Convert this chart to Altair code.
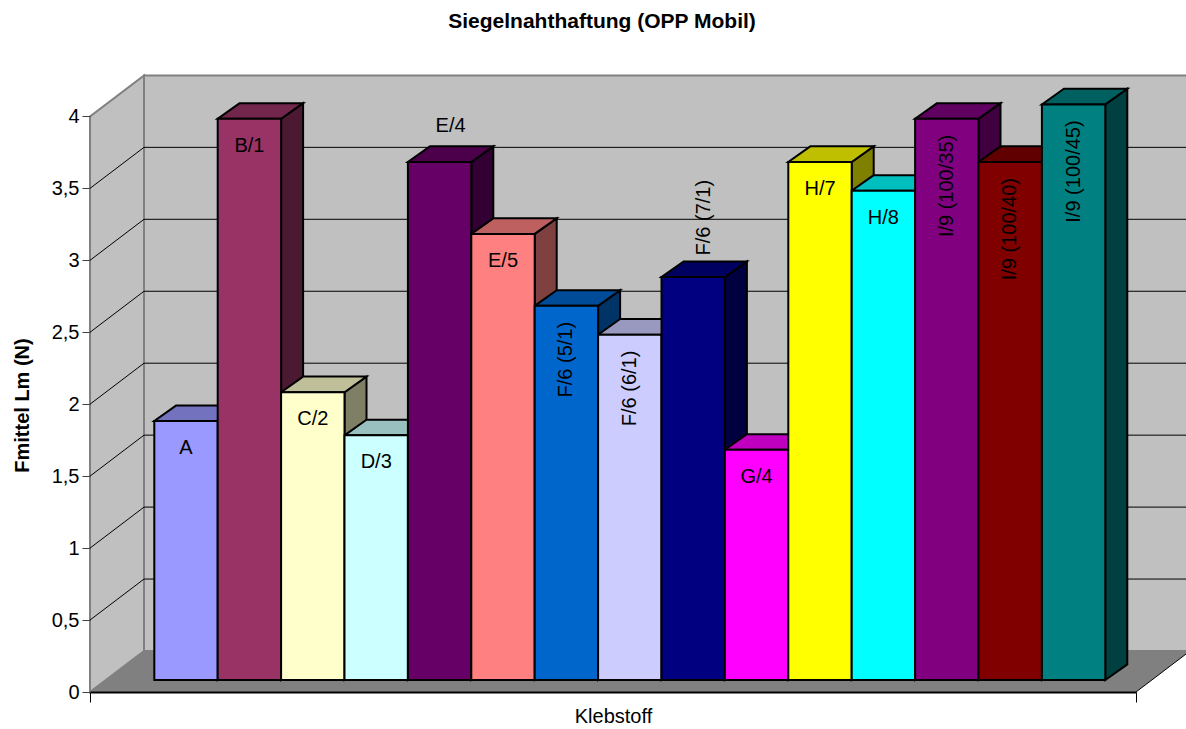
import altair as alt
import pandas as pd

# ---- data -------------------------------------------------------------
categories = ["A", "B/1", "C/2", "D/3", "E/4", "E/5", "F/6 (5/1)", "F/6 (6/1)",
              "F/6 (7/1)", "G/4", "H/7", "H/8", "I/9 (100/35)", "I/9 (100/40)",
              "I/9 (100/45)"]
values = [1.8, 3.9, 2.0, 1.7, 3.6, 3.1, 2.6, 2.4, 2.8, 1.6, 3.6, 3.4, 3.9, 3.6, 4.0]
colors = ["#9999FF", "#993366", "#FFFFCC", "#CCFFFF", "#660066", "#FF8080",
          "#0066CC", "#CCCCFF", "#000080", "#FF00FF", "#FFFF00", "#00FFFF",
          "#800080", "#800000", "#008080"]
# label placement: above the bar or inside it, and rotated or not
label_outside = [False, False, False, False, True, False, False, False,
                 True, False, False, False, False, False, False]
label_vertical = [False, False, False, False, False, False, True, True,
                  True, False, False, False, True, True, True]
y_ticks = [0, 0.5, 1, 1.5, 2, 2.5, 3, 3.5, 4]
grid_values = [0.5, 1, 1.5, 2, 2.5, 3, 3.5]
WALL_TOP = 4

# ---- geometry of the pseudo-3D frame ------------------------------------
FONT = "Liberation Sans"
W, H = 1046, 616
PX_PER_N = 143.9
SLOT_PX = 63.4
Y_TOP = H / PX_PER_N
X_MIN = -64.3 / SLOT_PX
X_MAX = X_MIN + W / SLOT_PX


def dy(p):
    return p / PX_PER_N


def dx(p):
    return p / SLOT_PX


WALL_DX, WALL_DY = dx(54), dy(41)
BAR_DX, BAR_DY = dx(22), dy(15.6)
BAR_BASE = dy(12)


def shade(hex_color, f):
    r, g, b = (int(hex_color[i:i + 2], 16) for i in (1, 3, 5))
    return "#{:02X}{:02X}{:02X}".format(int(r * f), int(g * f), int(b * f))


xs = alt.Scale(domain=[X_MIN, X_MAX], nice=False, zero=False)
ys = alt.Scale(domain=[0, Y_TOP], nice=False, zero=False)

x_axis = alt.Axis(values=[X_MIN, X_MAX], labels=False, grid=False, tickSize=10,
                  tickColor="#000000", domainColor="#000000", domainWidth=2,
                  titleFont=FONT, titleFontSize=20, titleFontWeight="normal",
                  titleColor="#000000", titlePadding=4, zindex=1)
y_axis = alt.Axis(values=y_ticks, labelExpr="replace(format(datum.value, '~g'), '.', ',')",
                  domain=False, grid=False, tickSize=8, tickColor="#404040",
                  labelFont=FONT, labelFontSize=20, labelColor="#000000", labelPadding=3,
                  titleFont=FONT, titleFontSize=20, titleFontWeight="bold",
                  titleColor="#000000", titleX=-68, titleY=329, titleAngle=270,
                  titleAlign="center", titleBaseline="middle", zindex=1)


def X(field):
    return alt.X(field, type="quantitative", scale=xs, axis=x_axis,
                 title="Klebstoff", stack=None)


def Y(field):
    return alt.Y(field, type="quantitative", scale=ys, axis=y_axis,
                 title="Fmittel Lm (N)", stack=None)


# ---- walls and floor ----------------------------------------------------
left_wall = alt.Chart(pd.DataFrame({
    "x": [X_MIN, X_MIN + WALL_DX],
    "y": [0, WALL_DY],
    "y2": [WALL_TOP, WALL_TOP + WALL_DY],
})).mark_area(fill="#C0C0C0", stroke="#808080", strokeWidth=2).encode(
    x=X("x"), y=Y("y"), y2=alt.Y2("y2"))

back_wall = alt.Chart(pd.DataFrame({
    "x": [X_MIN + WALL_DX], "x2": [X_MAX + WALL_DX],
    "y": [WALL_DY], "y2": [WALL_TOP + WALL_DY],
})).mark_rect(fill="#C0C0C0", stroke="#808080", strokeWidth=2).encode(
    x=X("x"), x2=alt.X2("x2"), y=Y("y"), y2=alt.Y2("y2"))

floor = alt.Chart(pd.DataFrame({
    "y": [0, WALL_DY],
    "x": [X_MIN, X_MIN + WALL_DX],
    "x2": [X_MAX, X_MAX + WALL_DX],
})).mark_area(orient="horizontal", fill="#808080").encode(
    y=Y("y"), x=X("x"), x2=alt.X2("x2"))

floor_edge = alt.Chart(pd.DataFrame({
    "x": [X_MAX], "x2": [X_MAX + WALL_DX], "y": [0], "y2": [WALL_DY],
})).mark_rule(color="#000000", strokeWidth=1).encode(
    x=X("x"), x2=alt.X2("x2"), y=Y("y"), y2=alt.Y2("y2"))

grid_df = pd.DataFrame({"v": grid_values})
grid_df["yb"] = grid_df["v"] + WALL_DY
grid_df["xa"] = X_MIN
grid_df["xb"] = X_MIN + WALL_DX
grid_df["xc"] = X_MAX + WALL_DX

grid_back = alt.Chart(grid_df).mark_rule(color="#000000", strokeWidth=1).encode(
    x=X("xb"), x2=alt.X2("xc"), y=Y("yb"))
grid_side = alt.Chart(grid_df).mark_rule(color="#000000", strokeWidth=1).encode(
    x=X("xa"), x2=alt.X2("xb"), y=Y("v"), y2=alt.Y2("yb"))

# ---- bars: front, top and side faces -------------------------------------
front_rows, top_rows, side_rows, label_rows = [], [], [], []
for i, (cat, v, c) in enumerate(zip(categories, values, colors)):
    top = BAR_BASE + v
    front_rows.append({"id": i, "x": i, "x2": i + 1, "y": BAR_BASE, "y2": top, "fill": c})
    for t in (0, 1):
        top_rows.append({"id": i, "y": top + t * BAR_DY,
                         "x": i + t * BAR_DX, "x2": i + 1 + t * BAR_DX,
                         "fill": shade(c, 0.75)})
        side_rows.append({"id": i, "x": i + 1 + t * BAR_DX,
                          "y": BAR_BASE + t * BAR_DY, "y2": top + t * BAR_DY,
                          "fill": shade(c, 0.5)})
    if label_outside[i]:
        lx = i + 0.5 + BAR_DX / 2
        ly = top + BAR_DY + (dy(6) if label_vertical[i] else dy(20))
    else:
        lx = i + 0.5
        ly = top - (dy(16) if label_vertical[i] else dy(27))
    label_rows.append({"cat": cat, "lx": lx, "ly": ly,
                       "kind": ("out" if label_outside[i] else "in") +
                               ("_v" if label_vertical[i] else "_h")})

front_df = pd.DataFrame(front_rows)
top_df = pd.DataFrame(top_rows)
side_df = pd.DataFrame(side_rows)
label_df = pd.DataFrame(label_rows)

bar_sides = alt.Chart(side_df).mark_area(stroke="#000000", strokeWidth=2, strokeJoin="miter").encode(
    x=X("x"), y=Y("y"), y2=alt.Y2("y2"),
    fill=alt.Fill("fill:N", scale=None), detail="id:N")

bar_tops = alt.Chart(top_df).mark_area(orient="horizontal", stroke="#000000", strokeWidth=2,
                                       strokeJoin="miter").encode(
    y=Y("y"), x=X("x"), x2=alt.X2("x2"),
    fill=alt.Fill("fill:N", scale=None), detail="id:N")

bar_fronts = alt.Chart(front_df).mark_rect(stroke="#000000", strokeWidth=2, strokeJoin="miter").encode(
    x=X("x"), x2=alt.X2("x2"), y=Y("y"), y2=alt.Y2("y2"),
    fill=alt.Fill("fill:N", scale=None))


def label_layer(kind, **mark_kw):
    return alt.Chart(label_df).transform_filter(
        alt.datum.kind == kind
    ).mark_text(font=FONT, fontSize=20, color="#000000", **mark_kw).encode(
        x=X("lx"), y=Y("ly"), text="cat:N")


labels = [
    label_layer("in_h", align="center", baseline="middle"),
    label_layer("out_h", align="center", baseline="middle"),
    label_layer("in_v", angle=270, align="right", baseline="middle"),
    label_layer("out_v", angle=270, align="left", baseline="middle"),
]

chart = alt.layer(
    left_wall, back_wall, floor, floor_edge, grid_back, grid_side,
    bar_sides, bar_tops, bar_fronts, *labels
).properties(
    width=W, height=H,
    title=alt.TitleParams("Siegelnahthaftung (OPP Mobil)", font=FONT, fontSize=21,
                          fontWeight="bold", color="#000000", anchor="middle",
                          dx=-11, offset=39),
    padding={"left": 90, "top": 76, "right": 50, "bottom": 37},
    autosize="none",
    background="#FFFFFF",
).configure_view(stroke=None)

chart.save("out.html", embed_options={"renderer": "svg", "actions": False})
